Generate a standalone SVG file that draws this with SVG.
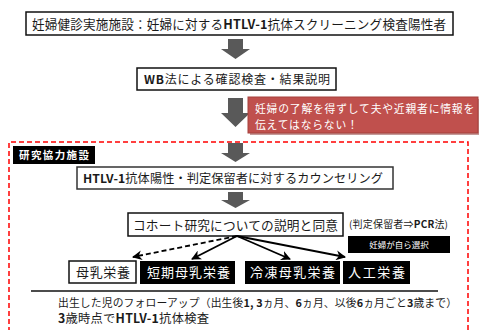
<svg xmlns="http://www.w3.org/2000/svg" width="480" height="330" viewBox="0 0 480 330">
<defs>
<style>
.t{font-family:"Noto Sans CJK JP","Noto Sans",sans-serif;fill:#1a1a1a}
.b{font-weight:bold}
.w{fill:#fff}
.box{fill:#fff;stroke:#111;stroke-width:1.5}
.blk{fill:#000}
.barrow{fill:#595959}
.con{stroke:#000;stroke-width:1.8;fill:none}
</style>
<marker id="ah" viewBox="0 0 10 10" refX="9" refY="5" markerWidth="5.5" markerHeight="5.5" orient="auto" markerUnits="strokeWidth">
<path d="M0,0 L10,5 L0,10 L3,5 Z" fill="#000"/>
</marker>
</defs>
<rect width="480" height="330" fill="#fff"/>

<g id="region">
<path d="M9,332 L9,142 L468,142 L468,332" fill="none" stroke="#f00" stroke-width="1.5" stroke-dasharray="5,3"/>
</g>

<g id="arrows">
<path class="barrow" d="M228,39 H243 V49 H250 L235.5,59 L221,49 H228 Z"/>
<path class="barrow" d="M228,98 H243 V113 H250 L235.5,127 L221,113 H228 Z"/>
<path class="barrow" d="M228,143 H243 V153 H250 L235.5,162 L221,153 H228 Z"/>
<path class="barrow" d="M228,192 H243 V200 H250 L235.5,208 L221,200 H228 Z"/>
</g>

<g id="n1">
<rect class="box" x="26" y="12" width="427" height="23"/>
<text class="t" x="32" y="28.5" font-size="12.6" textLength="414" lengthAdjust="spacing">妊婦健診実施施設：妊婦に対する<tspan class="b">HTLV-1</tspan>抗体スクリーニング検査陽性者</text>
</g>

<g id="n2">
<rect class="box" x="137" y="68" width="199" height="22"/>
<text class="t" x="144" y="84" font-size="12" textLength="186" lengthAdjust="spacing"><tspan class="b">WB</tspan>法による確認検査・結果説明</text>
</g>

<g id="note">
<rect x="250" y="99" width="229" height="36" fill="#8a3533" opacity="0.5"/>
<rect x="248" y="97" width="230" height="36" fill="#c0504d" stroke="#a5403d" stroke-width="1"/>
<text class="t w" x="255" y="113.3" font-size="10.8" letter-spacing="0.8">妊婦の了解を得ずして夫や近親者に情報を</text>
<text class="t w" x="255" y="129.4" font-size="10.8" letter-spacing="0.8">伝えてはならない！</text>
</g>

<g id="label">
<rect class="blk" x="13" y="146" width="82" height="18"/>
<text class="t w b" x="19" y="159" font-size="10.5" textLength="70" lengthAdjust="spacing">研究協力施設</text>
</g>

<g id="n3">
<rect class="box" x="77" y="167" width="316" height="22" style="stroke:#333"/>
<text class="t" x="83" y="183" font-size="12.2" textLength="300" lengthAdjust="spacing"><tspan class="b">HTLV-1</tspan>抗体陽性・判定保留者に対するカウンセリング</text>
</g>

<g id="n4">
<rect class="box" x="128" y="213" width="215" height="23"/>
<text class="t" x="133" y="229.5" font-size="12.7" textLength="205" lengthAdjust="spacing">コホート研究についての説明と同意</text>
</g>

<g id="pcr">
<text class="t" x="349" y="228" font-size="10" textLength="99" lengthAdjust="spacing">(判定保留者⇒<tspan class="b">PCR</tspan>法)</text>
</g>

<g id="choice">
<rect class="blk" x="348" y="236" width="102" height="17"/>
<text class="t w" x="399" y="248" font-size="8.5" text-anchor="middle">妊婦が自ら選択</text>
</g>

<g id="f1">
<rect class="box" x="69" y="261" width="67" height="22"/>
<text class="t" x="76" y="277" font-size="13" textLength="54" lengthAdjust="spacing">母乳栄養</text>
</g>
<g id="f2">
<rect class="blk" x="140" y="261" width="95" height="23"/>
<text class="t w" x="147" y="277" font-size="13" textLength="83" lengthAdjust="spacing">短期母乳栄養</text>
</g>
<g id="f3">
<rect class="blk" x="245" y="261" width="95" height="23"/>
<text class="t w" x="250" y="277" font-size="13" textLength="85" lengthAdjust="spacing">冷凍母乳栄養</text>
</g>
<g id="f4">
<rect class="blk" x="343" y="261" width="67" height="23"/>
<text class="t w" x="348" y="277" font-size="13" textLength="57" lengthAdjust="spacing">人工栄養</text>
</g>

<g id="connectors">
<line class="con" x1="237" y1="236" x2="133" y2="257" stroke-dasharray="5,3" marker-end="url(#ah)"/>
<line class="con" x1="237" y1="236" x2="192" y2="259" marker-end="url(#ah)"/>
<line class="con" x1="237" y1="236" x2="290" y2="259" marker-end="url(#ah)"/>
<line class="con" x1="237" y1="236" x2="345" y2="257" marker-end="url(#ah)"/>
</g>

<g id="followup">
<line x1="31" y1="291" x2="438" y2="291" stroke="#111" stroke-width="1.5"/>
<text class="t" x="58" y="306.5" font-size="10.8" textLength="399" lengthAdjust="spacing">出生した児のフォローアップ（出生後<tspan class="b">1, 3</tspan>ヵ月、<tspan class="b">6</tspan>ヵ月、以後<tspan class="b">6</tspan>ヵ月ごと<tspan class="b">3</tspan>歳まで）</text>
<text class="t" x="58" y="322.5" font-size="12.3" textLength="151" lengthAdjust="spacing"><tspan class="b">3</tspan>歳時点で<tspan class="b">HTLV-1</tspan>抗体検査</text>
</g>
</svg>
